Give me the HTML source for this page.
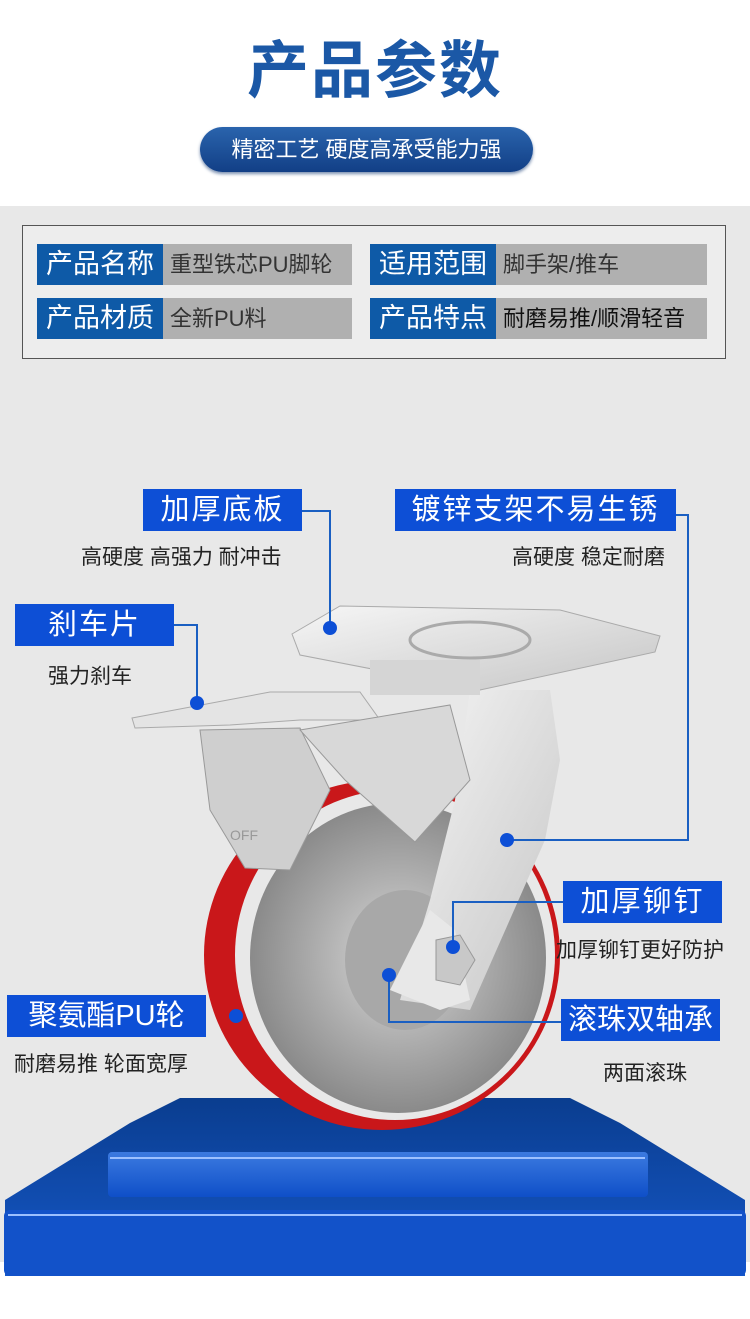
<!DOCTYPE html>
<html><head><meta charset="utf-8"><style>
*{margin:0;padding:0;box-sizing:border-box}
body{width:750px;height:1319px;position:relative;background:#fff;font-family:"Liberation Sans","Noto Sans CJK SC",sans-serif;overflow:hidden}
.a{position:absolute}
.h1{left:0;width:750px;top:32px;text-align:center;font-size:62px;font-weight:bold;color:#1b58a6;letter-spacing:2px;line-height:80px}
.pill{left:200px;top:127px;width:333px;height:45px;border-radius:23px;background:linear-gradient(#2a64ad,#123f86);color:#fff;font-size:22px;line-height:45px;text-align:center;box-shadow:0 2px 3px #7a8fb0}
.gray{left:0;top:206px;width:750px;height:1056px;background:#e8e8e8}
.tbl{left:22px;top:225px;width:704px;height:134px;border:1px solid #555;background:#ededed}
.lb{background:#0e5aa7;color:#fff;font-size:27px;line-height:41px;text-align:center;height:41px}
.vl{background:#b0b0b0;color:#333;font-size:22px;line-height:41px;height:41px;padding-left:7px}
.bl{background:#0d4fd6;color:#fff;font-size:29px;text-align:center;height:42px;line-height:42px;letter-spacing:2px}
.sub{font-size:21px;color:#222}
</style></head><body>
<div class="a h1">产品参数</div>
<div class="a pill">精密工艺 硬度高承受能力强</div>
<div class="a gray"></div>
<div class="a tbl"></div>
<div class="a lb" style="left:37px;top:244px;width:126px">产品名称</div>
<div class="a vl" style="left:163px;top:244px;width:189px">重型铁芯PU脚轮</div>
<div class="a lb" style="left:370px;top:244px;width:126px">适用范围</div>
<div class="a vl" style="left:496px;top:244px;width:211px">脚手架/推车</div>
<div class="a lb" style="left:37px;top:298px;width:126px">产品材质</div>
<div class="a vl" style="left:163px;top:298px;width:189px">全新PU料</div>
<div class="a lb" style="left:370px;top:298px;width:126px">产品特点</div>
<div class="a vl" style="left:496px;top:298px;width:211px;color:#111">耐磨易推/顺滑轻音</div>

<svg class="a" style="left:0;top:0" width="750" height="1319">
<defs>
<linearGradient id="bp" x1="0" y1="0" x2="0" y2="1"><stop offset="0" stop-color="#0a3d8f"/><stop offset="1" stop-color="#1658c8"/></linearGradient>
<linearGradient id="bf" x1="0" y1="0" x2="0" y2="1"><stop offset="0" stop-color="#3c7ae0"/><stop offset="1" stop-color="#0f4fc8"/></linearGradient>
<radialGradient id="hub" cx="0.5" cy="0.5" r="0.5"><stop offset="0" stop-color="#d8d8d8"/><stop offset="1" stop-color="#8a8a8a"/></radialGradient>
<linearGradient id="met" x1="0" y1="0" x2="1" y2="1"><stop offset="0" stop-color="#f6f6f6"/><stop offset="1" stop-color="#c5c5c5"/></linearGradient>
</defs>
<polygon points="130,1123 180,1098 570,1098 620,1123 745,1200 745,1276 5,1276 5,1200" fill="url(#bp)"/>
<rect x="108" y="1152" width="540" height="45" rx="4" fill="url(#bf)"/>
<rect x="4" y="1210" width="742" height="66" rx="6" fill="#1252c9"/>
<line x1="110" y1="1158" x2="645" y2="1158" stroke="#9cc0ff" stroke-width="2"/>
<line x1="8" y1="1215" x2="742" y2="1215" stroke="#9cc0ff" stroke-width="2"/>
<ellipse cx="382" cy="955" rx="178" ry="175" fill="#c9171a"/>
<ellipse cx="395" cy="955" rx="160" ry="165" fill="#e8e8e8"/>
<ellipse cx="398" cy="958" rx="148" ry="155" fill="url(#hub)"/>
<ellipse cx="405" cy="960" rx="60" ry="70" fill="#a8a8a8"/>
<polygon points="470,690 550,690 560,760 545,840 470,1010 400,1000 430,900 455,800" fill="url(#met)"/>
<polygon points="390,990 430,910 455,930 470,1000 440,1010" fill="#e8e8e8"/>
<polygon points="436,940 460,935 475,960 460,985 436,980" fill="#c8c8c8" stroke="#999"/>
<polygon points="292,634 340,606 560,610 660,636 655,652 480,690 300,655" fill="url(#met)" stroke="#aaa"/>
<ellipse cx="470" cy="640" rx="60" ry="18" fill="none" stroke="#aaa" stroke-width="3"/>
<rect x="370" y="660" width="110" height="35" fill="#d5d5d5"/>
<polygon points="132,718 270,692 360,692 380,720 300,720 230,725 135,728" fill="#e4e4e4" stroke="#aaa"/>
<polygon points="200,730 300,728 330,790 290,870 245,868 210,810" fill="#cfcfcf" stroke="#999"/>
<polygon points="300,730 450,705 470,780 415,842 345,780" fill="#d8d8d8" stroke="#999"/>
<text x="230" y="840" font-size="14" fill="#999" font-family="Liberation Sans">OFF</text>
<g stroke="#1a5fc2" stroke-width="2" fill="none">
<polyline points="302,511 330,511 330,628"/>
<polyline points="676,515 688,515 688,840 507,840"/>
<polyline points="174,625 197,625 197,703"/>
<polyline points="563,902 453,902 453,947"/>
<polyline points="561,1022 389,1022 389,975"/>
</g>
<g fill="#0d4fd6">
<circle cx="330" cy="628" r="7"/><circle cx="507" cy="840" r="7"/><circle cx="197" cy="703" r="7"/>
<circle cx="453" cy="947" r="7"/><circle cx="389" cy="975" r="7"/><circle cx="236" cy="1016" r="7"/>
</g>
</svg>

<div class="a bl" style="left:143px;top:489px;width:159px">加厚底板</div>
<div class="a sub" style="left:81px;top:541px">高硬度 高强力 耐冲击</div>
<div class="a bl" style="left:395px;top:489px;width:281px">镀锌支架不易生锈</div>
<div class="a sub" style="left:512px;top:541px">高硬度 稳定耐磨</div>
<div class="a bl" style="left:15px;top:604px;width:159px">刹车片</div>
<div class="a sub" style="left:48px;top:660px">强力刹车</div>
<div class="a bl" style="left:563px;top:881px;width:159px">加厚铆钉</div>
<div class="a sub" style="left:556px;top:934px">加厚铆钉更好防护</div>
<div class="a bl" style="left:7px;top:995px;width:199px;letter-spacing:0">聚氨酯PU轮</div>
<div class="a sub" style="left:14px;top:1048px">耐磨易推 轮面宽厚</div>
<div class="a bl" style="left:561px;top:999px;width:159px;letter-spacing:0">滚珠双轴承</div>
<div class="a sub" style="left:603px;top:1057px">两面滚珠</div>
</body></html>
